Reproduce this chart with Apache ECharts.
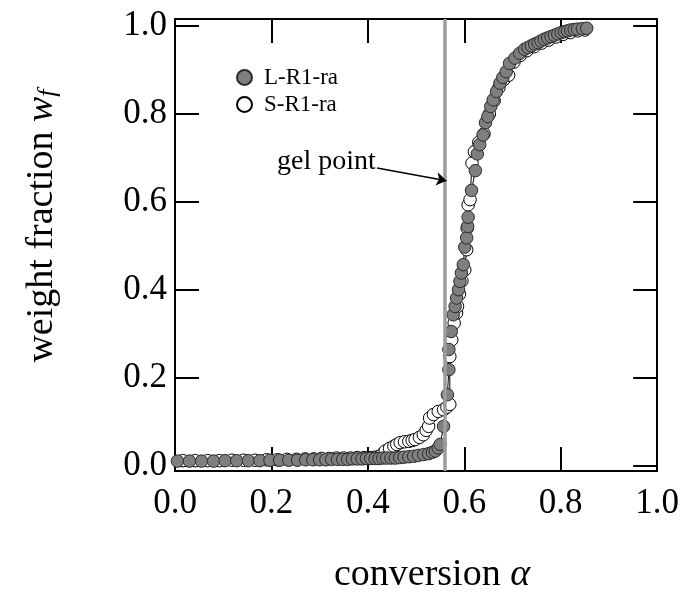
<!DOCTYPE html>
<html>
<head>
<meta charset="utf-8">
<script src="https://cdn.jsdelivr.net/npm/echarts@6/dist/echarts.min.js"></script>
<style>
  html, body { margin: 0; padding: 0; background: #fff; }
  #chart { width: 682px; height: 599px; }
</style>
</head>
<body>
<div id="chart"></div>
<script>
// conversion alpha / weight fraction, L-R1-ra (filled grey)
const lAlpha = [0.005, 0.030, 0.055, 0.080, 0.104, 0.128, 0.152, 0.176, 0.197, 0.217, 0.236, 0.254, 0.271, 0.286, 0.300, 0.313, 0.325, 0.337, 0.348, 0.358, 0.368, 0.378, 0.388, 0.397, 0.406, 0.415, 0.423, 0.431, 0.439, 0.448, 0.457, 0.466, 0.475, 0.485, 0.495, 0.505, 0.516, 0.526, 0.534, 0.540, 0.546, 0.550, 0.557, 0.565, 0.568, 0.568, 0.573, 0.577, 0.581, 0.584, 0.588, 0.591, 0.594, 0.598, 0.601, 0.605, 0.607, 0.608, 0.615, 0.623, 0.627, 0.632, 0.639, 0.644, 0.649, 0.655, 0.660, 0.667, 0.674, 0.680, 0.687, 0.694, 0.705, 0.715, 0.725, 0.732, 0.739, 0.746, 0.753, 0.759, 0.766, 0.773, 0.780, 0.787, 0.794, 0.801, 0.808, 0.814, 0.821, 0.828, 0.835, 0.845, 0.854];
const lWf = [0.010, 0.010, 0.010, 0.010, 0.011, 0.011, 0.011, 0.011, 0.012, 0.012, 0.012, 0.012, 0.013, 0.013, 0.013, 0.013, 0.014, 0.014, 0.014, 0.014, 0.015, 0.015, 0.015, 0.016, 0.016, 0.016, 0.016, 0.017, 0.017, 0.017, 0.017, 0.018, 0.019, 0.020, 0.021, 0.023, 0.025, 0.027, 0.030, 0.033, 0.040, 0.048, 0.089, 0.161, 0.218, 0.264, 0.305, 0.343, 0.362, 0.381, 0.400, 0.419, 0.438, 0.457, 0.497, 0.518, 0.544, 0.565, 0.626, 0.671, 0.709, 0.730, 0.752, 0.780, 0.794, 0.817, 0.832, 0.851, 0.870, 0.883, 0.896, 0.915, 0.927, 0.938, 0.947, 0.951, 0.955, 0.959, 0.962, 0.966, 0.970, 0.973, 0.976, 0.979, 0.982, 0.985, 0.987, 0.989, 0.991, 0.992, 0.993, 0.994, 0.995];

// S-R1-ra (open circles)
const sAlpha = [0.016, 0.042, 0.068, 0.092, 0.118, 0.142, 0.166, 0.190, 0.212, 0.232, 0.252, 0.270, 0.288, 0.304, 0.320, 0.335, 0.350, 0.364, 0.378, 0.392, 0.405, 0.415, 0.423, 0.430, 0.436, 0.445, 0.454, 0.460, 0.467, 0.476, 0.485, 0.492, 0.498, 0.507, 0.515, 0.521, 0.526, 0.528, 0.536, 0.546, 0.557, 0.564, 0.570, 0.570, 0.574, 0.579, 0.584, 0.586, 0.590, 0.595, 0.601, 0.605, 0.606, 0.608, 0.612, 0.616, 0.621, 0.630, 0.641, 0.652, 0.662, 0.672, 0.682, 0.692, 0.703, 0.716, 0.730, 0.745, 0.760, 0.775, 0.790, 0.805, 0.820, 0.835, 0.850];
const sWf = [0.011, 0.011, 0.011, 0.011, 0.012, 0.012, 0.012, 0.013, 0.013, 0.014, 0.014, 0.015, 0.015, 0.016, 0.016, 0.017, 0.017, 0.017, 0.018, 0.018, 0.018, 0.019, 0.020, 0.026, 0.033, 0.039, 0.044, 0.048, 0.052, 0.054, 0.055, 0.057, 0.059, 0.064, 0.070, 0.080, 0.089, 0.108, 0.116, 0.123, 0.127, 0.133, 0.139, 0.248, 0.286, 0.324, 0.347, 0.362, 0.390, 0.420, 0.445, 0.491, 0.540, 0.593, 0.605, 0.688, 0.714, 0.735, 0.755, 0.800, 0.830, 0.860, 0.878, 0.888, 0.918, 0.933, 0.944, 0.953, 0.961, 0.968, 0.975, 0.981, 0.985, 0.989, 0.991];

const xTicks = [0, 0.2, 0.4, 0.6, 0.8, 1.0];
const gelAlpha = 0.565;
// annotation arrow, data coords: [start, tip]
const gelArrow = [[0.419, 0.677], [0.563, 0.648]];
const gelLabelAt = [0.314, 0.691];

const pairs = (xs, ys) => xs.map((x, i) => [x, ys[i]]);
const serif = '"Liberation Serif", "Times New Roman", serif';

const chart = echarts.init(document.getElementById('chart'));

const tickStyle = { show: true, inside: true, length: 24, lineStyle: { color: '#000', width: 2 } };
const lineBox = { show: true, onZero: false, lineStyle: { color: '#000', width: 2 } };

let option = {
  animation: false,
  backgroundColor: '#fff',
  grid: { left: 175, right: 22, top: 19, bottom: 128, containLabel: false },
  legend: {
    data: ['L-R1-ra', 'S-R1-ra'],
    orient: 'vertical',
    left: 231,
    top: 61,
    icon: 'circle',
    itemWidth: 15,
    itemHeight: 15,
    itemGap: 4,
    textStyle: { fontFamily: serif, fontSize: 23, color: '#000', padding: [0, 0, 0, 7] }
  },
  xAxis: [{
    type: 'value', position: 'bottom', min: 0, max: 1, interval: 0.2,
    axisLine: lineBox, axisTick: tickStyle, splitLine: { show: false },
    axisLabel: {
      fontFamily: serif, fontSize: 35, color: '#000', margin: 15,
      formatter: v => xTicks.some(t => Math.abs(t - v) < 1e-6) ? v.toFixed(1) : ''
    }
  }, {
    type: 'value', position: 'top', min: 0, max: 1, interval: 0.2,
    axisLine: lineBox, axisTick: tickStyle, axisLabel: { show: false }, splitLine: { show: false }
  }],
  yAxis: [{
    type: 'value', position: 'left', min: -0.0125, max: 1.016, splitNumber: 5,
    axisLine: lineBox, axisTick: tickStyle, splitLine: { show: false },
    axisLabel: {
      fontFamily: serif, fontSize: 35, color: '#000', margin: 8,
      showMinLabel: false, showMaxLabel: false,
      formatter: v => (v < -0.001 || v > 1.001) ? '' : v.toFixed(1)
    }
  }, {
    type: 'value', position: 'right', min: -0.0125, max: 1.016, splitNumber: 5,
    axisLine: lineBox, axisTick: tickStyle, axisLabel: { show: false }, splitLine: { show: false }
  }],
  series: [{
    name: 'gel',
    type: 'line',
    data: [],
    markLine: {
      silent: true, symbol: 'none', label: { show: false },
      lineStyle: { color: '#9d9d9d', width: 3.5, type: 'solid' },
      data: [{ xAxis: gelAlpha }]
    }
  }, {
    name: 'S-R1-ra',
    type: 'line',
    data: pairs(sAlpha, sWf),
    symbol: 'circle',
    symbolSize: 12.5,
    showAllSymbol: true,
    lineStyle: { color: '#000', width: 1 },
    itemStyle: { color: '#fff', borderColor: '#000', borderWidth: 1 }
  }, {
    name: 'L-R1-ra',
    type: 'line',
    data: pairs(lAlpha, lWf),
    symbol: 'circle',
    symbolSize: 12.5,
    showAllSymbol: true,
    lineStyle: { color: '#000', width: 1 },
    itemStyle: { color: '#7f7f7f', borderColor: '#2a2a2a', borderWidth: 1 }
  }, {
    name: 'note',
    type: 'line',
    data: [],
    markLine: {
      silent: true, symbol: ['none', 'arrow'], symbolSize: 10, label: { show: false },
      lineStyle: { color: '#000', width: 1.5, type: 'solid' },
      data: [[{ coord: gelArrow[0] }, { coord: gelArrow[1] }]]
    },
    markPoint: {
      silent: true,
      data: [{
        coord: gelLabelAt, symbol: 'circle', symbolSize: 0,
        label: { show: true, position: 'inside', formatter: 'gel point', fontFamily: serif, fontSize: 28, color: '#000' }
      }]
    }
  }],
  graphic: [{
    type: 'text',
    x: 432, y: 575,
    style: {
      text: 'conversion {a|α}',
      font: '38px ' + serif,
      fill: '#000',
      align: 'center', verticalAlign: 'middle',
      rich: { a: { fontFamily: serif, fontSize: 38, fontStyle: 'italic', fill: '#000' } }
    }
  }, {
    type: 'text',
    x: 42, y: 226,
    rotation: Math.PI / 2,
    style: {
      text: 'weight fraction {w|w}{f|f}',
      font: '38px ' + serif,
      fill: '#000',
      align: 'center', verticalAlign: 'middle',
      rich: {
        w: { fontFamily: serif, fontSize: 38, fontStyle: 'italic', fill: '#000' },
        f: { fontFamily: serif, fontSize: 26, fontStyle: 'italic', fill: '#000', verticalAlign: 'bottom' }
      }
    }
  }]
};

chart.setOption(option);
</script>
</body>
</html>
